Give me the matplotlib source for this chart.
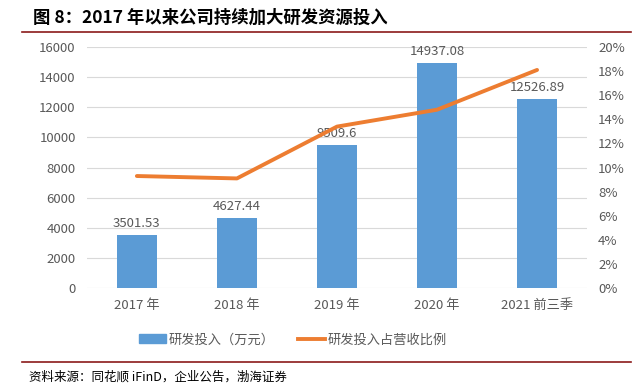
import numpy as np
import matplotlib.pyplot as plt
from matplotlib.lines import Line2D
from matplotlib.patches import Patch

plt.rcParams['font.family'] = ['Noto Sans CJK SC', 'DejaVu Sans']

# R&D spending and its share of revenue
years = ['2017 年', '2018 年', '2019 年', '2020 年', '2021 前三季']
rd_spend = [3501.53, 4627.44, 9509.6, 14937.08, 12526.89]
rd_labels = ['3501.53', '4627.44', '9509.6', '14937.08', '12526.89']
rd_ratio = [9.3, 9.1, 13.4, 14.8, 18.1]

bar_color = '#5b9bd5'
line_color = '#ed7d31'
tick_color = '#595959'

fig = plt.figure(figsize=(6.34, 3.92), dpi=100)
ax = fig.add_axes([0.137, 0.265, 0.789, 0.615])
ax2 = ax.twinx()

x = np.arange(len(years))
ax.bar(x, rd_spend, width=0.4, color=bar_color, zorder=2)
for xi, v, lab in zip(x, rd_spend, rd_labels):
    ax.text(xi, v + 350, lab, ha='center', va='bottom', fontsize=9.5, color=tick_color)

ax2.plot(x, rd_ratio, color=line_color, lw=2.8, solid_capstyle='round', zorder=3)

ax.set_ylim(0, 16000)
ax.set_yticks(np.arange(0, 16001, 2000))
ax2.set_ylim(0, 20)
ax2.set_yticks(np.arange(0, 21, 2))
ax2.set_yticklabels([f'{v}%' for v in range(0, 21, 2)])
ax.set_xlim(-0.5, len(years) - 0.5)
ax.set_xticks(x)
ax.set_xticklabels(years)

ax.grid(axis='y', color='#d9d9d9', lw=0.8, zorder=0)
ax.set_axisbelow(True)
for a in (ax, ax2):
    for s in a.spines.values():
        s.set_visible(False)
    a.tick_params(length=0, labelsize=9.5, colors=tick_color)
ax.tick_params(axis='x', pad=8)
ax.tick_params(axis='y', pad=8)
ax2.tick_params(axis='y', pad=8)

handles = [Patch(color=bar_color), Line2D([], [], color=line_color, lw=2.8)]
fig.legend(handles, ['研发投入（万元）', '研发投入占营收比例'], loc='center',
           bbox_to_anchor=(0.462, 0.133), ncol=2, frameon=False, fontsize=9.5,
           labelcolor=tick_color, handlelength=2.0, columnspacing=1.8, handletextpad=0.2)

# title and frame lines
fig.text(0.052, 0.955, '图 8：2017 年以来公司持续加大研发资源投入', fontsize=12.5,
         fontweight='bold', va='center', ha='left')
fig.add_artist(Line2D([0.035, 0.995], [0.918, 0.918], color='#8b1a1a', lw=1.2))
fig.add_artist(Line2D([0.035, 0.995], [0.077, 0.077], color='#8b1a1a', lw=1.2))
fig.text(0.045, 0.037, '资料来源：同花顺 iFinD，企业公告，渤海证券', fontsize=9,
         style='italic', va='center', ha='left')

fig.savefig('out.png', dpi=100)
